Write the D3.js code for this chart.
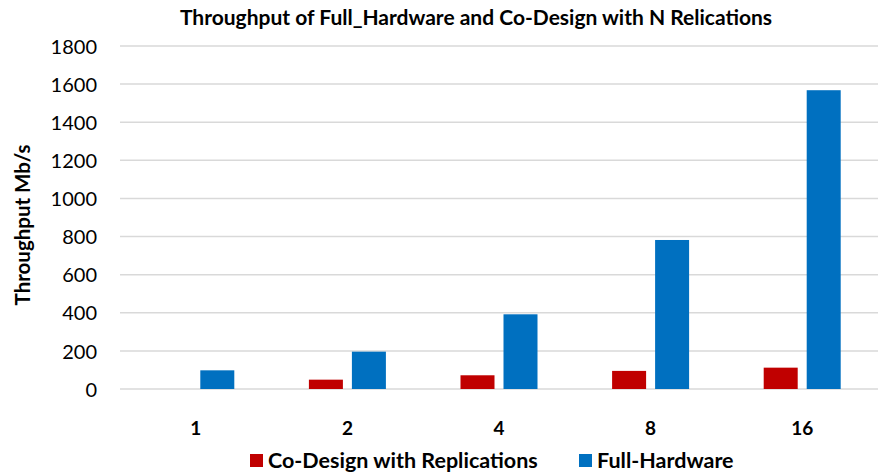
<!DOCTYPE html>
<html>
<head>
<meta charset="utf-8">
<script src="https://cdn.jsdelivr.net/npm/d3@7"></script>
<style>
  html, body { margin: 0; padding: 0; background: #fff; }
  svg { display: block; font-family: Lato, "Open Sans", sans-serif; }
</style>
</head>
<body>
<svg id="chart" width="879" height="473"></svg>
<script>
// Replication counts on the x axis
const categories = ["1", "2", "4", "8", "16"];
// Throughput (Mb/s) for each configuration
const coDesign = [null, 49, 72, 95, 112];
const fullHardware = [98, 196, 392, 782, 1568];
const seriesNames = ["Co-Design with Replications", "Full-Hardware"];
const seriesColors = ["#C00000", "#0070C0"];
const yTicks = [0, 200, 400, 600, 800, 1000, 1200, 1400, 1600, 1800];

const svg = d3.select("#chart");
const plot = { left: 120, right: 878, top: 46, bottom: 389 };

const x = d3.scaleBand().domain(categories).range([plot.left, plot.right]);
const y = d3.scaleLinear().domain([0, 1800]).range([plot.bottom, plot.top]);

const barW = 34, gap = 9;

// Horizontal gridlines
svg.append("g")
  .selectAll("line")
  .data(yTicks)
  .join("line")
  .attr("x1", plot.left).attr("x2", plot.right)
  .attr("y1", d => y(d)).attr("y2", d => y(d))
  .attr("stroke", "#d9d9d9").attr("stroke-width", 1.5);

// Y axis tick labels
const yAxis = d3.axisLeft(y).tickValues(yTicks).tickFormat(d3.format("d"))
  .tickSize(0).tickPadding(0);
const yg = svg.append("g").attr("transform", "translate(97,0)").call(yAxis);
yg.select(".domain").remove();
yg.selectAll("text").attr("font-size", 20).attr("fill", "#000")
  .attr("font-family", "Lato, sans-serif").attr("dy", "0.36em");

// X axis category labels
const xAxis = d3.axisBottom(x).tickSize(0).tickPadding(0);
const xg = svg.append("g").attr("transform", "translate(0,421)").call(xAxis);
xg.select(".domain").remove();
xg.selectAll("text").attr("font-size", 19).attr("font-weight", "bold")
  .attr("fill", "#000").attr("font-family", "Lato, sans-serif");

// Bars
const series = [coDesign, fullHardware];
series.forEach((vals, si) => {
  const offset = si === 0 ? -gap / 2 - barW : gap / 2;
  svg.append("g")
    .selectAll("rect")
    .data(categories.map((c, i) => ({ c, v: vals[i] })).filter(d => d.v != null))
    .join("rect")
    .attr("x", d => x(d.c) + x.bandwidth() / 2 + offset)
    .attr("width", barW)
    .attr("y", d => y(d.v))
    .attr("height", d => y(0) - y(d.v))
    .attr("fill", seriesColors[si]);
});

// Title
svg.append("text")
  .attr("x", 476).attr("y", 25)
  .attr("text-anchor", "middle")
  .attr("font-size", 21).attr("font-weight", "bold")
  .text("Throughput of Full_Hardware and Co-Design with N Relications");

// Y axis title
svg.append("text")
  .attr("transform", "translate(30,225) rotate(-90)")
  .attr("text-anchor", "middle")
  .attr("font-size", 20.5).attr("font-weight", "bold")
  .text("Throughput Mb/s");

// Legend
const legendItems = [
  { name: seriesNames[0], color: seriesColors[0], x: 250 },
  { name: seriesNames[1], color: seriesColors[1], x: 579 }
];
const lg = svg.append("g");
legendItems.forEach(it => {
  lg.append("rect").attr("x", it.x).attr("y", 454).attr("width", 13).attr("height", 13)
    .attr("fill", it.color);
  lg.append("text").attr("x", it.x + 18).attr("y", 468)
    .attr("font-size", 21.5).attr("font-weight", "bold").text(it.name);
});
</script>
</body>
</html>
